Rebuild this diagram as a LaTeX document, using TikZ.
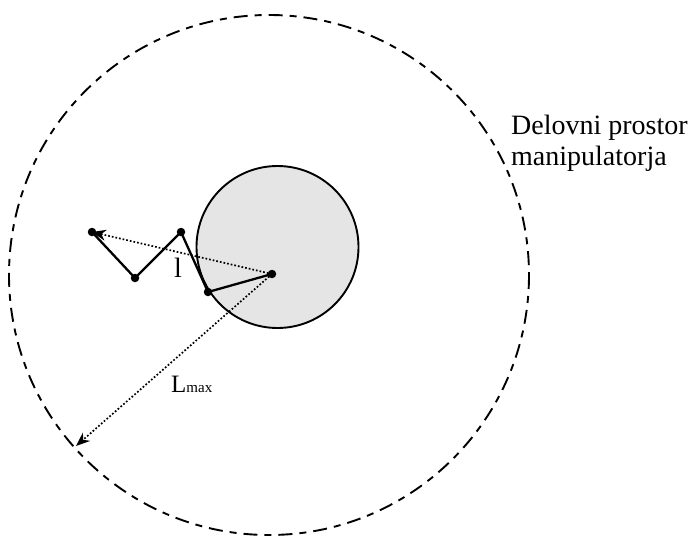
\documentclass[tikz,border=0pt]{standalone}
\usepackage{fontspec}
\setmainfont{Liberation Serif}
\usetikzlibrary{arrows.meta}
\begin{document}
\begin{tikzpicture}[x=1pt,y=-1pt,
  joint/.style={circle,fill=black,inner sep=0pt,minimum size=8.5pt},
  link/.style={line width=2.3pt},
  reach/.style={dotted,line width=1.7pt,-{Stealth[length=14pt,width=11pt]}},
  lbl/.style={inner sep=0pt}]
\useasboundingbox (0,0) rectangle (691,538);
\draw[line width=1.9pt,dash pattern=on 14pt off 7pt on 7pt off 7pt] (269,275) circle[radius=260];
\draw[line width=1.9pt,fill=black!10] (277.5,247) circle[radius=81];
\node[joint] (a) at (92,232) {};
\node[joint] (b) at (135,278) {};
\node[joint] (c) at (181,232) {};
\node[joint] (d) at (208,292) {};
\node[joint] (e) at (272,274) {};
\coordinate (m) at (76,446);
\draw[link] (a.center) -- (b.center) -- (c.center) -- (d.center) -- (e.center);
\draw[reach] (e.center) -- (a.center);
\draw[reach] (e.center) -- (m);
\node[lbl,font=\fontsize{28}{28}\selectfont] (l) at (178,268) {l};
\node[lbl,font=\fontsize{25}{25}\selectfont,anchor=base west] (lm) at (171,392) {L\fontsize{15}{15}\selectfont max};
\node[lbl,font=\fontsize{28}{31}\selectfont,align=left,anchor=north west] (t) at (511,115) {Delovni prostor\\manipulatorja};
\end{tikzpicture}
\end{document}
